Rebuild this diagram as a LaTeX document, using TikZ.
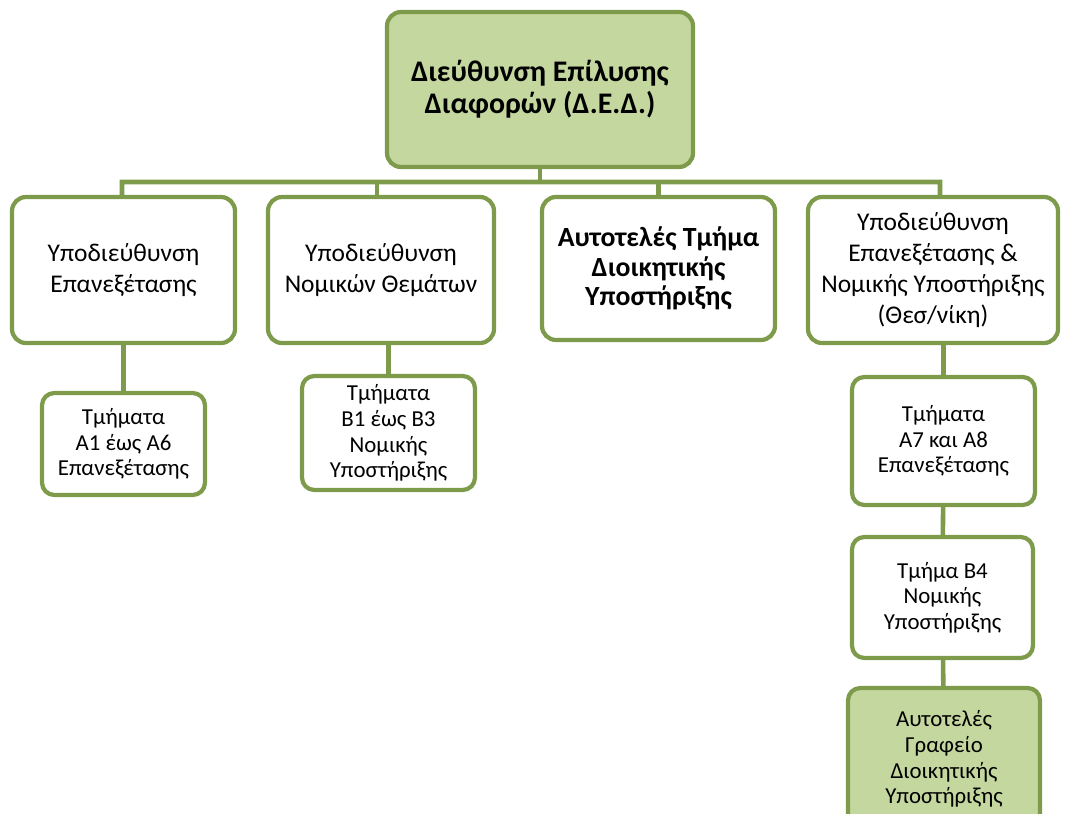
\documentclass[tikz,border=0pt]{standalone}
\usepackage{fontspec}
\setmainfont{Carlito}
\usepackage{tikz}
\usetikzlibrary{positioning, calc}
\definecolor{orgline}{RGB}{125,155,75}
\definecolor{orgfill}{RGB}{196,215,158}
\tikzset{
  unit/.style={draw=orgline, fill=white, rounded corners=8pt, line width=2.4pt,
               minimum width=#1, align=center, inner sep=2pt,
               font=\fontsize{14.5}{17.6}\selectfont},
  dept/.style={draw=orgline, fill=white, rounded corners=7pt, line width=2.4pt,
               minimum width=#1, align=center, inner sep=2pt,
               font=\fontsize{13}{14.6}\selectfont},
  conn/.style={draw=orgline, line width=2.6pt},
}

\begin{document}
\begin{tikzpicture}
  \useasboundingbox (0,0) rectangle (21.32,-16.28);

  % ─── Head of the directorate ───────────────────────────────────────
  \node[unit=6.12cm, fill=orgfill, minimum height=3.10cm,
        font=\fontsize{17}{18.4}\selectfont\bfseries]
    (ded) at (10.8, -1.79) {Διεύθυνση Επίλυσης\\Διαφορών (Δ.Ε.Δ.)};

  % ─── Sub-directorates ──────────────────────────────────────────────
  \coordinate (bus) at (0, -3.64);
  \node[unit=4.46cm, minimum height=2.92cm] (sdA) at (2.47, -5.40)
    {Υποδιεύθυνση\\Επανεξέτασης};
  \node[unit=4.52cm, minimum height=2.92cm] (sdB) at (7.62, -5.40)
    {Υποδιεύθυνση\\Νομικών Θεμάτων};
  \node[unit=4.66cm, minimum height=2.86cm, font=\fontsize{15.8}{16.8}\selectfont\bfseries]
    (adm) at (13.17, -5.37) {Αυτοτελές Τμήμα\\Διοικητικής\\Υποστήριξης};
  \node[unit=5.0cm, minimum height=2.92cm] (sdT) at (18.66, -5.40)
    {Υποδιεύθυνση\\Επανεξέτασης \&\\Νομικής Υποστήριξης\\(Θεσ/νίκη)};

  % Bus from the head to the four units
  \draw[conn] (ded.south) -- (ded.south |- bus);
  \draw[conn] ($(sdA.north)+(-0.03,0)$) |- ($(bus)+(18.8,0)$) -- ($(sdT.north)+(0.14,0)$);
  \draw[conn] ($(sdB.north)+(-0.08,0)$) -- ($(sdB.north |- bus)+(-0.08,0)$);
  \draw[conn] (adm.north) -- (adm.north |- bus);

  % ─── Departments ───────────────────────────────────────────────────
  \node[dept=3.26cm, minimum height=2.04cm] (dA) at (2.47, -8.88)
    {Τμήματα\\Α1 έως Α6\\Επανεξέτασης};
  \node[dept=3.46cm, minimum height=2.28cm] (dB) at (7.77, -8.66)
    {Τμήματα\\Β1 έως Β3\\Νομικής\\Υποστήριξης};
  \draw[conn] (sdA) -- (dA);
  \draw[conn] (dB.north) -- (dB.north |- sdB.south);

  % Thessaloniki chain
  \node[dept=3.66cm, minimum height=2.56cm] (dA7) at (18.87, -8.82)
    {Τμήματα\\Α7 και Α8\\Επανεξέτασης};
  \node[dept=3.62cm, minimum height=2.42cm] (dB4) at (18.85, -11.95)
    {Τμήμα Β4\\Νομικής\\Υποστήριξης};
  \node[dept=3.84cm, minimum height=2.84cm, fill=orgfill] (off) at (18.88, -15.18)
    {Αυτοτελές\\Γραφείο\\Διοικητικής\\Υποστήριξης};
  \draw[conn] (dA7.north) -- (dA7.north |- sdT.south);
  \draw[conn] (dA7) -- (dB4);
  \draw[conn] (dB4) -- (off);

\end{tikzpicture}
\end{document}
